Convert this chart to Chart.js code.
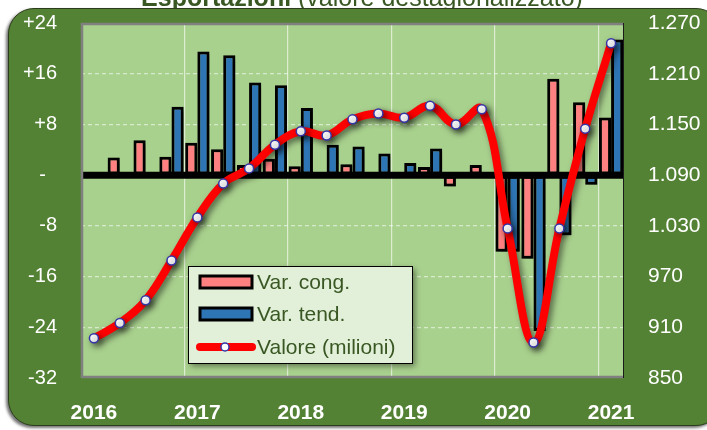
<!DOCTYPE html>
<html>
<head>
<meta charset="utf-8">
<script src="https://cdn.jsdelivr.net/npm/chart.js@4/dist/chart.umd.min.js"></script>
<style>
    html, body { margin: 0; padding: 0; background: #ffffff; }
    #wrap { position: relative; width: 707px; height: 430px; overflow: hidden; }
    #panel {
        position: absolute; left: 8px; top: 8px; width: 712px; height: 416px;
        background: #548235; border: 1px solid #2b3d1c; border-radius: 26px;
        box-shadow: -2px 2px 3px rgba(0, 0, 0, 0.55);
    }
    #chart { position: absolute; left: 0; top: 0; }
</style>
</head>
<body>
<div id="wrap">
    <div id="panel"></div>
    <canvas id="chart" width="707" height="430"></canvas>
</div>
<script>
// Quarters, 2016 T1 .. 2021 T1
let quarters = ['2016 T1', '2016 T2', '2016 T3', '2016 T4',
                '2017 T1', '2017 T2', '2017 T3', '2017 T4',
                '2018 T1', '2018 T2', '2018 T3', '2018 T4',
                '2019 T1', '2019 T2', '2019 T3', '2019 T4',
                '2020 T1', '2020 T2', '2020 T3', '2020 T4',
                '2021 T1'];

// Var. cong. (%)
let varCong = [-0.4, 2.8, 5.5, 2.9, 5.1, 4.1, 1.6, 2.6, 1.4, -0.3, 1.7,
               0.3, -0.3, 1.3, -1.8, 1.6, -12.1, -13.2, 15.2, 11.5, 9.1];
// Var. tend. (%)
let varTend = [0.1, 0.2, 0.3, 10.8, 19.5, 18.9, 14.6, 14.2, 10.6, 4.8, 4.5,
               3.4, 1.9, 4.2, 0.1, -0.4, -12.1, -24.6, -9.5, -1.5, 21.4];
// Valore (milioni)
let valore = [897, 915, 942, 989, 1040, 1080, 1098, 1126, 1142, 1137, 1156,
              1163, 1158, 1172, 1150, 1168, 1027, 892, 1027, 1145, 1246];

// Tick labels, top to bottom
let leftTicks = ['+24', '+16', '+8', '-  ', '-8', '-16', '-24', '-32'];
let rightTicks = ['1.270', '1.210', '1.150', '1.090', '1.030', '970', '910', '850'];

let labelGreen = '#385723';
let fontName = '"Liberation Sans", Arial, sans-serif';

// Plot area background and frame
let plotBackground = {
    id: 'plotBackground',
    beforeDraw(chart) {
        let ctx = chart.ctx;
        let a = chart.chartArea;
        ctx.save();
        ctx.fillStyle = '#a9d18e';
        ctx.fillRect(a.left, a.top, a.right - a.left, a.bottom - a.top);
        ctx.restore();
    },
    afterDraw(chart) {
        let ctx = chart.ctx;
        let a = chart.chartArea;
        ctx.save();
        ctx.strokeStyle = '#808080';
        ctx.lineWidth = 2.5;
        ctx.beginPath();
        ctx.moveTo(a.left + 1, a.bottom);
        ctx.lineTo(a.left + 1, a.top + 1);
        ctx.lineTo(a.right, a.top + 1);
        ctx.moveTo(a.left, a.bottom - 1);
        ctx.lineTo(a.right, a.bottom - 1);
        ctx.stroke();
        ctx.strokeStyle = '#1a1a1a';
        ctx.lineWidth = 1;
        ctx.beginPath();
        ctx.moveTo(a.right - 0.5, a.top);
        ctx.lineTo(a.right - 0.5, a.bottom);
        ctx.stroke();
        ctx.restore();
    }
};

// Zero line above the bars, shadows on bars and line
let shadows = {
    id: 'shadows',
    beforeDatasetDraw(chart, args) {
        let ctx = chart.ctx;
        if (args.meta.type === 'line') {
            let a = chart.chartArea;
            let y0 = chart.scales.y.getPixelForValue(0);
            ctx.save();
            ctx.strokeStyle = '#000000';
            ctx.lineWidth = 7;
            ctx.beginPath();
            ctx.moveTo(a.left, y0);
            ctx.lineTo(a.right, y0);
            ctx.stroke();
            ctx.restore();
        }
        ctx.save();
        ctx.shadowColor = 'rgba(0, 0, 0, 0.5)';
        ctx.shadowBlur = 6;
        ctx.shadowOffsetX = 3;
        ctx.shadowOffsetY = 3;
    },
    afterDatasetDraw(chart) {
        chart.ctx.restore();
    }
};

// Title, partly hidden by the green panel
let topTitle = {
    id: 'topTitle',
    afterDraw(chart) {
        let ctx = chart.ctx;
        ctx.save();
        ctx.beginPath();
        ctx.rect(0, 0, chart.width, 8);
        ctx.clip();
        ctx.fillStyle = labelGreen;
        ctx.textBaseline = 'alphabetic';
        ctx.font = 'bold 25px ' + fontName;
        let bold = 'Esportazioni';
        let rest = ' (valore destagionalizzato)';
        let w1 = ctx.measureText(bold).width;
        ctx.font = '25px ' + fontName;
        let w2 = ctx.measureText(rest).width;
        let x = 362 - (w1 + w2) / 2;
        ctx.font = 'bold 25px ' + fontName;
        ctx.fillText(bold, x, 6);
        ctx.font = '25px ' + fontName;
        ctx.fillText(rest, x + w1, 6);
        ctx.restore();
    }
};

// Legend box inside the plot
let boxLegend = {
    id: 'boxLegend',
    afterDraw(chart) {
        let ctx = chart.ctx;
        let ds = chart.data.datasets;
        let bx = 188, by = 266, bw = 224, bh = 97;
        ctx.save();
        ctx.shadowColor = 'rgba(0, 0, 0, 0.45)';
        ctx.shadowBlur = 6;
        ctx.shadowOffsetX = 3;
        ctx.shadowOffsetY = 3;
        ctx.fillStyle = '#e2efd9';
        ctx.fillRect(bx, by, bw, bh);
        ctx.shadowColor = 'transparent';
        ctx.strokeStyle = '#000000';
        ctx.lineWidth = 1;
        ctx.strokeRect(bx + 0.5, by + 0.5, bw, bh);

        ctx.font = '21px ' + fontName;
        ctx.fillStyle = labelGreen;
        ctx.textBaseline = 'middle';
        let rows = [282, 314, 347];
        for (let i = 0; i < 2; i++) {
            ctx.fillStyle = ds[i].backgroundColor;
            ctx.fillRect(200, rows[i] - 6, 52, 12);
            ctx.strokeStyle = '#000000';
            ctx.lineWidth = 3;
            ctx.strokeRect(200, rows[i] - 6, 52, 12);
            ctx.fillStyle = labelGreen;
            ctx.fillText(ds[i].label, 257, rows[i] + 1);
        }
        ctx.strokeStyle = ds[2].borderColor;
        ctx.lineWidth = 8;
        ctx.lineCap = 'round';
        ctx.beginPath();
        ctx.moveTo(200, rows[2]);
        ctx.lineTo(252, rows[2]);
        ctx.stroke();
        ctx.beginPath();
        ctx.arc(225, rows[2], 4, 0, Math.PI * 2);
        ctx.fillStyle = '#ffffff';
        ctx.fill();
        ctx.lineWidth = 1.5;
        ctx.strokeStyle = ds[2].pointBorderColor;
        ctx.stroke();
        ctx.fillStyle = labelGreen;
        ctx.fillText(ds[2].label, 257, rows[2] + 1);
        ctx.restore();
    }
};

let ctx = document.getElementById('chart').getContext('2d');
let chart = new Chart(ctx, {
    type: 'bar',
    data: {
        labels: quarters,
        datasets: [{
            label: 'Var. cong.',
            data: varCong,
            backgroundColor: '#ff8080',
            borderColor: '#000000',
            borderWidth: 3,
            borderSkipped: false,
            categoryPercentage: 0.94,
            barPercentage: 1.0,
            yAxisID: 'y',
            order: 1
        }, {
            label: 'Var. tend.',
            data: varTend,
            backgroundColor: '#2e75b6',
            borderColor: '#000000',
            borderWidth: 3,
            borderSkipped: false,
            categoryPercentage: 0.94,
            barPercentage: 1.0,
            yAxisID: 'y',
            order: 1
        }, {
            type: 'line',
            label: 'Valore (milioni)',
            data: valore,
            borderColor: '#ff0000',
            borderWidth: 8,
            tension: 0.4,
            pointRadius: 4.5,
            pointBackgroundColor: '#ffffff',
            pointBorderColor: '#3535a8',
            pointBorderWidth: 1.5,
            yAxisID: 'y1',
            order: 0
        }]
    },
    options: {
        responsive: false,
        animation: false,
        layout: { padding: { top: 23, left: 0, right: 0, bottom: 0 } },
        plugins: {
            legend: { display: false },
            tooltip: { enabled: false },
            title: { display: false }
        },
        scales: {
            x: {
                offset: true,
                grid: {
                    offset: true,
                    drawTicks: true,
                    tickLength: 23,
                    tickColor: 'transparent',
                    lineWidth: 1.2,
                    color: (c) => (c.index % 4 === 0 && c.index > 0 && c.index < quarters.length) ? 'rgba(255, 255, 255, 0.6)' : 'transparent'
                },
                border: { display: false },
                ticks: {
                    autoSkip: false,
                    maxRotation: 0,
                    padding: 0,
                    color: '#ffffff',
                    font: { family: fontName, size: 21, weight: 'bold' },
                    callback: function (v, i) {
                        let q = quarters[i];
                        return q.endsWith('T1') ? q.slice(0, 4) : '';
                    }
                },
                afterFit: (s) => { s.height = 52; }
            },
            y: {
                position: 'left',
                min: -32,
                max: 24,
                grid: {
                    drawTicks: true,
                    tickLength: 24,
                    tickColor: 'transparent',
                    lineWidth: 1.2,
                    color: (c) => (c.tick.value === 0 || c.tick.value === 24 || c.tick.value === -32) ? 'transparent' : 'rgba(255, 255, 255, 0.55)'
                },
                border: { display: false, dash: [4, 3] },
                ticks: {
                    stepSize: 8,
                    padding: 0,
                    color: '#ffffff',
                    font: { family: fontName, size: 20 },
                    callback: (v, i, t) => leftTicks[t.length - 1 - i]
                },
                afterFit: (s) => { s.width = 81; }
            },
            y1: {
                position: 'right',
                min: 850,
                max: 1270,
                grid: { drawOnChartArea: false, drawTicks: true, tickLength: 24, tickColor: 'transparent' },
                border: { display: false },
                ticks: {
                    stepSize: 60,
                    padding: 0,
                    color: '#ffffff',
                    font: { family: fontName, size: 21 },
                    callback: (v, i, t) => rightTicks[t.length - 1 - i]
                },
                afterFit: (s) => { s.width = 83; }
            }
        }
    },
    plugins: [plotBackground, shadows, topTitle, boxLegend]
});
</script>
</body>
</html>
